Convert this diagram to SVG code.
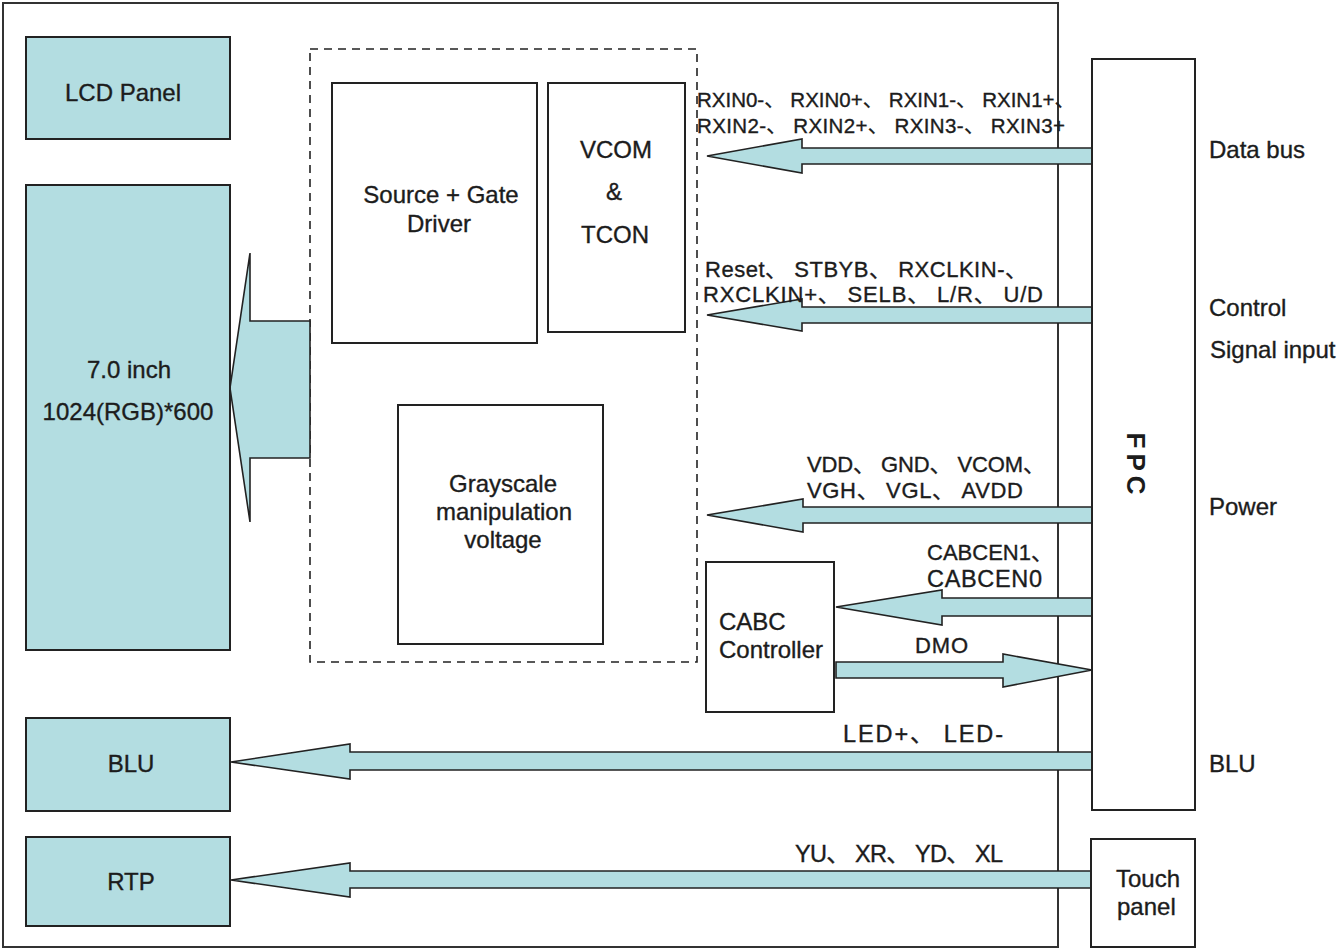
<svg xmlns="http://www.w3.org/2000/svg" width="1344" height="950" viewBox="0 0 1344 950">
<style>
text{font-family:"Liberation Sans",Arial,"Noto Sans CJK SC",sans-serif;fill:#1c1c1c;stroke:#1c1c1c;stroke-width:0.35}
.t{font-size:24px}
.c{text-anchor:middle}
.lb{font-size:20.5px}
.lb2{font-size:22px}
.lb3{font-size:23.5px}
.blue{fill:#b3dde1;stroke:#222;stroke-width:2}
.box{fill:#fff;stroke:#222;stroke-width:2}
.arr{fill:#b3dde1;stroke:#222;stroke-width:1.6;stroke-linejoin:miter}
</style>
<rect x="0" y="0" width="1344" height="950" fill="#fff"/>
<rect id="frame" x="3" y="3" width="1055" height="944" fill="none" stroke="#333" stroke-width="2"/>
<rect id="driver-group" x="310" y="49" width="387" height="613" fill="none" stroke="#222" stroke-width="1.6" stroke-dasharray="8,6"/>

<g id="connectors">
<polygon class="arr" points="310,321 250,321 250,253 230,388 250,522 250,458 310,458"/>
<polygon class="arr" points="1092,148 802,148 802,139 707,156 802,173 802,164 1092,164"/>
<polygon class="arr" points="1092,307 802,307 802,299 707,315 802,331 802,323 1092,323"/>
<polygon class="arr" points="1092,507 803,507 803,499 707,515 803,532 803,523 1092,523"/>
<polygon class="arr" points="1092,598 942,598 942,590 836,607 942,625 942,616 1092,616"/>
<polygon class="arr" points="836,662 1003,662 1003,654 1092,670 1003,687 1003,678 836,678"/>
<polygon class="arr" points="1092,752 350,752 350,744 231,762 350,779 350,770 1092,770"/>
<polygon class="arr" points="1092,871 350,871 350,863 231,880 350,897 350,888 1092,888"/>
</g>

<g id="lcd-panel"><rect class="blue" x="26" y="37" width="204" height="102"/><text class="t c" x="123" y="101">LCD Panel</text></g>
<g id="display"><rect class="blue" x="26" y="185" width="204" height="465"/><text class="t c" x="129" y="378">7.0 inch</text><text class="t c" x="128" y="420">1024(RGB)*600</text></g>
<g id="blu"><rect class="blue" x="26" y="718" width="204" height="93"/><text class="t c" x="131" y="772">BLU</text></g>
<g id="rtp"><rect class="blue" x="26" y="837" width="204" height="89"/><text class="t c" x="131" y="890">RTP</text></g>

<g id="source-gate"><rect class="box" x="332" y="83" width="205" height="260"/><text class="t c" x="441" y="203">Source + Gate</text><text class="t c" x="439" y="232">Driver</text></g>
<g id="vcom-tcon"><rect class="box" x="548" y="83" width="137" height="249"/><text class="t c" x="616" y="158">VCOM</text><text class="t c" x="614" y="200">&amp;</text><text class="t c" x="615" y="243">TCON</text></g>
<g id="grayscale"><rect class="box" x="398" y="405" width="205" height="239"/><text class="t c" x="503" y="492">Grayscale</text><text class="t c" x="504" y="520">manipulation</text><text class="t c" x="503" y="548">voltage</text></g>
<g id="cabc"><rect class="box" x="706" y="562" width="128" height="150"/><text class="t" x="719" y="630">CABC</text><text class="t" x="719" y="658">Controller</text></g>
<g id="fpc"><rect class="box" x="1092" y="59" width="103" height="751"/><text x="1127" y="466" transform="rotate(90 1127 466)" style="font-size:26px;font-weight:bold;letter-spacing:5px;text-anchor:middle;stroke-width:0">FPC</text></g>
<g id="touch-panel"><rect class="box" x="1091" y="839" width="104" height="108"/><text class="t" x="1116" y="887">Touch</text><text class="t" x="1117" y="915">panel</text></g>

<g id="labels">
<text class="lb" x="697" y="107" textLength="378">RXIN0-、 RXIN0+、 RXIN1-、 RXIN1+、</text>
<text class="lb" x="697" y="133" textLength="368">RXIN2-、 RXIN2+、 RXIN3-、 RXIN3+</text>
<text class="lb2" x="705" y="277" textLength="322">Reset、 STBYB、 RXCLKIN-、</text>
<text class="lb2" x="703" y="302" textLength="340">RXCLKIN+、 SELB、 L/R、 U/D</text>
<text class="lb2" x="807" y="472" textLength="238">VDD、 GND、 VCOM、</text>
<text class="lb2" x="807" y="498" textLength="216">VGH、 VGL、 AVDD</text>
<text class="lb2" x="927" y="560" textLength="126">CABCEN1、</text>
<text class="lb3" x="927" y="587" textLength="115">CABCEN0</text>
<text class="lb2" x="915" y="653" textLength="53">DMO</text>
<text class="lb3" x="843" y="742" textLength="160">LED+、 LED-</text>
<text class="lb3" x="795" y="862" textLength="208">YU、 XR、 YD、 XL</text>
<text class="t" x="1209" y="158">Data bus</text>
<text class="t" x="1209" y="316">Control</text>
<text class="t" x="1210" y="358">Signal  input</text>
<text class="t" x="1209" y="515">Power</text>
<text class="t" x="1209" y="772">BLU</text>
</g>
</svg>
